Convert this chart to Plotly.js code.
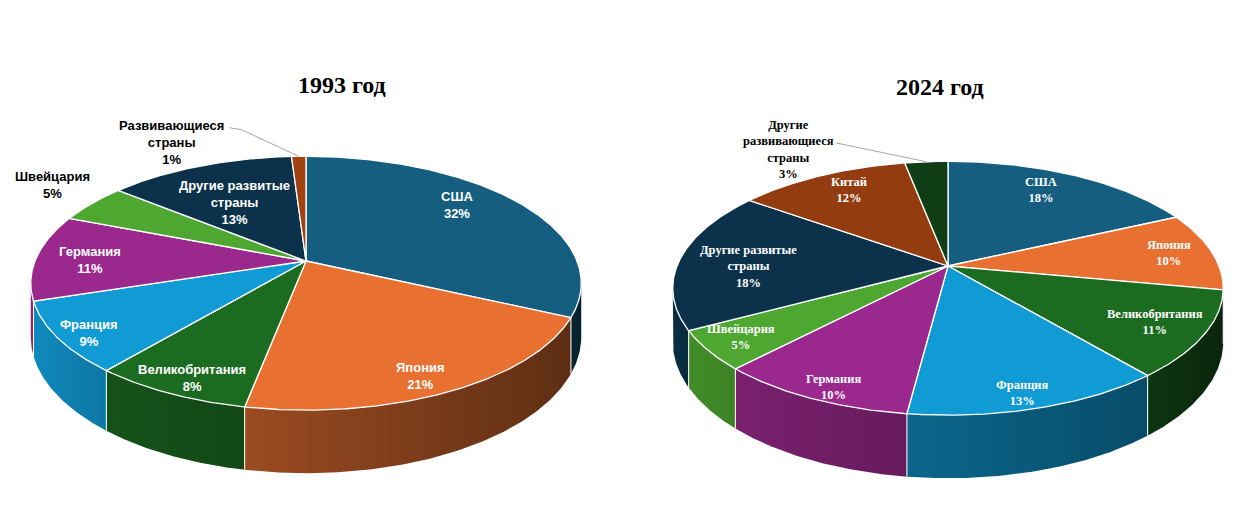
<!DOCTYPE html>
<html><head><meta charset="utf-8">
<script src="https://cdn.plot.ly/plotly-3.0.1.min.js"></script>
<style>html,body{margin:0;padding:0;background:#fff}#chart{width:1248px;height:521px}</style>
</head><body><div id="chart"></div>
<script>
// ---------- DATA ----------
const title1993 = '1993 год';
const title2024 = '2024 год';

const categories1993 = ['США','Япония','Великобритания','Франция','Германия','Швейцария','Другие развитые страны','Развивающиеся страны'];
const labels1993 = ['США','Япония','Великобритания','Франция','Германия','Швейцария','Другие развитые<br>страны','Развивающиеся<br>страны'];
const values1993 = [32, 21, 8, 9, 11, 5, 13, 1];

const categories2024 = ['США','Япония','Великобритания','Франция','Германия','Швейцария','Другие развитые страны','Китай','Другие развивающиеся страны'];
const labels2024 = ['США','Япония','Великобритания','Франция','Германия','Швейцария','Другие развитые<br>страны','Китай','Другие<br>развивающиеся<br>страны'];
const values2024 = [18, 10, 11, 13, 10, 5, 18, 12, 3];

// ---------- STYLE / LAYOUT ----------
const colors1993 = ['#155e80','#e87131','#1b6b21','#119bd5','#9b298d','#4ea731','#0b324a','#a0410f'];
const colors2024 = ['#155e80','#e87131','#1b6b21','#119bd5','#9b298d','#4ea731','#0b324a','#923c0f','#0f3d16'];
const outside1993 = [false,false,false,false,false,true,false,true];
const outside2024 = [false,false,false,false,false,false,false,false,true];
// label placement: radial fraction and angular nudge (degrees)
const labR1993 = [0.80, 0.86, 0.87, 0.89, 0.80, 1.23, 0.63, 1.25];
const labD1993 = [-7, 2.6, -1.3, -1.8, -1.2, 2.8, -1.7, -25.5];
const labR2024 = [0.815, 0.84, 0.81, 0.89, 0.90, 0.857, 0.738, 0.826, 1.277];
const labD2024 = [-3.4, -0.2, 0.2, 1.4, -1.9, 0.7, -3.6, 1.8, -26.6];

const K = 0.175;   // perspective
const RY = 0.454;  // vertical squash
const H = 0.192;   // thickness

function proj(t, r, drop) {
  r = (r === undefined) ? 1 : r; drop = drop || 0;
  const a = t * Math.PI / 180, c = Math.cos(a), s = Math.sin(a);
  const f = 1 / (1 + K * r * c);
  return [r * s * f, r * c * RY * f - drop * f];
}
function labelPos(t, r) {
  const a = t * Math.PI / 180, c = Math.cos(a), s = Math.sin(a);
  const f = 1 / (1 + K * c);
  return [r * s * f, r * c * RY * f];
}
function shade(hex, b) {
  const n = parseInt(hex.slice(1), 16);
  const R = Math.round(((n >> 16) & 255) * b), G = Math.round(((n >> 8) & 255) * b), B = Math.round((n & 255) * b);
  return 'rgb(' + R + ',' + G + ',' + B + ')';
}
function bright(t) { return Math.min(0.95, 0.35 + (t - 100) * 0.0035); }

const traces = [];
const annotations = [];

function buildPie(values, labels, colors, outside, labR, labD, xa, ya, fontFam, fontSize) {
  const total = values.reduce((p, v) => p + v, 0);
  const walls = [], tops = [];
  const sepX = [], sepY = [];
  let acc = 0;
  values.forEach((v, i) => {
    const a = acc / total * 360, b = (acc + v) / total * 360;
    acc += v;
    // top face
    const xs = [0], ys = [0];
    const n = Math.max(2, Math.ceil((b - a) / 0.5));
    for (let k = 0; k <= n; k++) { const p = proj(a + (b - a) * k / n); xs.push(p[0]); ys.push(p[1]); }
    xs.push(0); ys.push(0);
    tops.push({type: 'scatter', mode: 'lines', x: xs, y: ys, xaxis: xa, yaxis: ya, fill: 'toself',
      fillcolor: colors[i], line: {color: '#ffffff', width: 1.3}, hoverinfo: 'skip', showlegend: false});
    // side wall
    const lo = Math.max(a, 100), hi = Math.min(b, 260);
    if (hi > lo) {
      const wx = [], wy = [];
      const m = Math.max(2, Math.ceil((hi - lo) / 0.5));
      for (let k = 0; k <= m; k++) { const p = proj(lo + (hi - lo) * k / m); wx.push(p[0]); wy.push(p[1]); }
      for (let k = m; k >= 0; k--) { const p = proj(lo + (hi - lo) * k / m, 1, H); wx.push(p[0]); wy.push(p[1]); }
      wx.push(wx[0]); wy.push(wy[0]);
      walls.push({type: 'scatter', mode: 'lines', x: wx, y: wy, xaxis: xa, yaxis: ya, fill: 'toself',
        fillcolor: shade(colors[i], bright((lo + hi) / 2)),
        fillgradient: {type: 'horizontal', colorscale: [[0, shade(colors[i], bright(hi))], [1, shade(colors[i], bright(lo))]]},
        line: {width: 0, color: 'rgba(0,0,0,0)'}, hoverinfo: 'skip', showlegend: false});
    }
    if (a > 100 && a < 260) {
      const p1 = proj(a), p2 = proj(a, 1, H);
      sepX.push(p1[0], p2[0], null); sepY.push(p1[1], p2[1], null);
    }
    // label
    const mid = (a + b) / 2;
    const lp = labelPos(mid + labD[i], labR[i]);
    const pct = Math.round(v / total * 100) + '%';
    annotations.push({xref: xa, yref: ya, x: lp[0], y: lp[1], showarrow: false,
      text: '<b>' + labels[i] + '<br>' + pct + '</b>', align: 'center', xanchor: 'center', yanchor: 'middle',
      font: {family: fontFam, size: fontSize, color: outside[i] ? '#000000' : '#ffffff'}});
  });
  walls.forEach(t => traces.push(t));
  traces.push({type: 'scatter', mode: 'lines', x: sepX, y: sepY, xaxis: xa, yaxis: ya,
    line: {color: '#ffffff', width: 1}, hoverinfo: 'skip', showlegend: false});
  tops.forEach(t => traces.push(t));
  return total;
}

const tot1 = buildPie(values1993, labels1993, colors1993, outside1993, labR1993, labD1993, 'x', 'y', 'Liberation Sans, Arial, sans-serif', 13);
const tot2 = buildPie(values2024, labels2024, colors2024, outside2024, labR2024, labD2024, 'x2', 'y2', 'Liberation Serif, Times New Roman, serif', 12.5);

// leader lines for small outer slices
(function () {
  const px = 1 / 271;
  // 1993: developing countries (last slice)
  let acc = values1993.slice(0, 7).reduce((p, v) => p + v, 0);
  let mid = (acc + values1993[7] / 2) / tot1 * 360;
  let lp = labelPos(mid + labD1993[7], labR1993[7]);
  let rim = proj(mid);
  traces.push({type: 'scatter', mode: 'lines', xaxis: 'x', yaxis: 'y',
    x: [lp[0] + 58 * px, lp[0] + 70 * px, rim[0]], y: [lp[1] + 15 * px, lp[1] + 13 * px, rim[1]],
    line: {color: '#a6a6a6', width: 1}, hoverinfo: 'skip', showlegend: false});
  // 2024: other developing countries (last slice)
  acc = values2024.slice(0, 8).reduce((p, v) => p + v, 0);
  mid = (acc + values2024[8] / 2) / tot2 * 360;
  lp = labelPos(mid + labD2024[8], labR2024[8]);
  rim = proj(mid);
  traces.push({type: 'scatter', mode: 'lines', xaxis: 'x2', yaxis: 'y2',
    x: [lp[0] + 48 * px, rim[0]], y: [lp[1] + 7 * px, rim[1]],
    line: {color: '#a6a6a6', width: 1}, hoverinfo: 'skip', showlegend: false});
})();

annotations.push({xref: 'paper', yref: 'paper', x: 342 / 1248, y: 1 - 85 / 521, showarrow: false,
  text: '<b>' + title1993 + '</b>', xanchor: 'center', yanchor: 'middle',
  font: {family: 'Liberation Serif, Times New Roman, serif', size: 24, color: '#000000'}});
annotations.push({xref: 'paper', yref: 'paper', x: 940 / 1248, y: 1 - 87 / 521, showarrow: false,
  text: '<b>' + title2024 + '</b>', xanchor: 'center', yanchor: 'middle',
  font: {family: 'Liberation Serif, Times New Roman, serif', size: 24, color: '#000000'}});

const ax = {visible: false, showgrid: false, zeroline: false, fixedrange: true};
const layout = {
  width: 1248, height: 521,
  margin: {l: 0, r: 0, t: 0, b: 0},
  paper_bgcolor: '#ffffff', plot_bgcolor: '#ffffff',
  showlegend: false,
  xaxis: Object.assign({}, ax, {domain: [0, 612 / 1248], range: [-306 / 271, 306 / 271], anchor: 'y'}),
  yaxis: Object.assign({}, ax, {domain: [0, 1], range: [-(521 - 261) / 271, 261 / 271], anchor: 'x'}),
  xaxis2: Object.assign({}, ax, {domain: [636 / 1248, 1], range: [-(948 - 636) / 271, (1248 - 948) / 271], anchor: 'y2'}),
  yaxis2: Object.assign({}, ax, {domain: [0, 1], range: [-(521 - 266) / 271, 266 / 271], anchor: 'x2'}),
  annotations: annotations
};
Plotly.newPlot('chart', traces, layout, {displayModeBar: false, staticPlot: true});
</script>
</body></html>
